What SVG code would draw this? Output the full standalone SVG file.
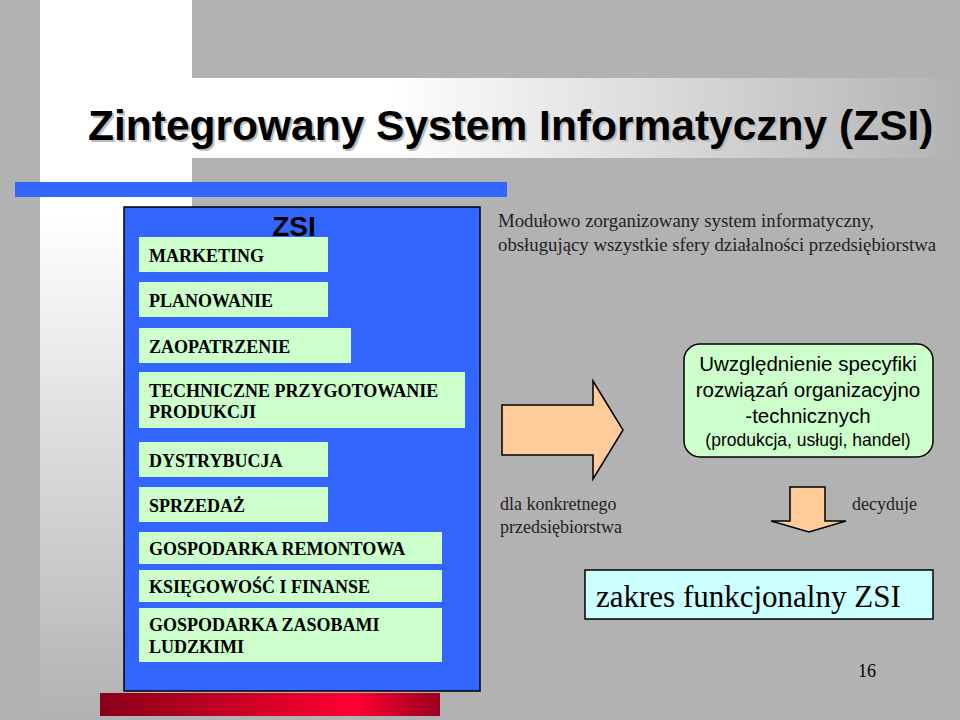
<svg xmlns="http://www.w3.org/2000/svg" width="960" height="720" viewBox="0 0 960 720">
<defs>
<linearGradient id="gv" x1="0" y1="0" x2="0" y2="1"><stop offset="0" stop-color="#fff"/><stop offset="0.3" stop-color="#fff"/><stop offset="1" stop-color="#b2b2b2"/></linearGradient>
<linearGradient id="gh" x1="0" y1="0" x2="1" y2="0"><stop offset="0" stop-color="#fff"/><stop offset="0.35" stop-color="#fff"/><stop offset="1" stop-color="#b2b2b2"/></linearGradient>
<linearGradient id="gr" x1="0" y1="0" x2="1" y2="0"><stop offset="0" stop-color="#8a0018"/><stop offset="0.75" stop-color="#ff0030"/><stop offset="1" stop-color="#9a0020"/></linearGradient>
<style>
.b{fill:#ccffcc}
.t{font-family:"Liberation Serif",serif;fill:#000}
.k{font-weight:bold}
.s{font-family:"Liberation Sans",sans-serif;fill:#000}
.o{fill:#ffcc99;stroke:#000;stroke-width:1.5}
.n{font-family:"Liberation Serif",serif;font-weight:bold;font-size:18px;fill:#000}
</style>
</defs>
<rect width="960" height="720" fill="#b2b2b2"/>
<rect x="40" y="0" width="152" height="720" fill="url(#gv)"/>
<rect x="80" y="78" width="880" height="80" fill="url(#gh)"/>
<text x="90" y="142" class="s k" style="font-size:42.5px;fill:#bbb">Zintegrowany System Informatyczny (ZSI)</text>
<text x="88" y="140" class="s k" style="font-size:42.5px">Zintegrowany System Informatyczny (ZSI)</text>
<rect x="15" y="182" width="492" height="15" fill="#3366ff"/>
<rect x="100" y="693" width="340" height="23" fill="url(#gr)"/>
<g id="zsi">
<rect x="124" y="207" width="356" height="484" fill="#3366ff" stroke="#000" stroke-width="1.5"/>
<text x="294" y="236" class="s k" style="font-size:28px" text-anchor="middle">ZSI</text>
</g>
<g id="n1"><rect class="b" x="139" y="237" width="189" height="35"/><text class="n" x="149" y="262">MARKETING</text></g>
<g id="n2"><rect class="b" x="139" y="282" width="189" height="35"/><text class="n" x="149" y="307">PLANOWANIE</text></g>
<g id="n3"><rect class="b" x="139" y="328" width="212" height="35"/><text class="n" x="149" y="353">ZAOPATRZENIE</text></g>
<g id="n4"><rect class="b" x="139" y="372" width="326" height="56"/><text class="n" x="149" y="397">TECHNICZNE PRZYGOTOWANIE</text><text class="n" x="149" y="418">PRODUKCJI</text></g>
<g id="n5"><rect class="b" x="139" y="442" width="189" height="35"/><text class="n" x="149" y="467">DYSTRYBUCJA</text></g>
<g id="n6"><rect class="b" x="139" y="487" width="189" height="35"/><text class="n" x="149" y="512">SPRZEDAŻ</text></g>
<g id="n7"><rect class="b" x="139" y="532" width="303" height="32"/><text class="n" x="149" y="555">GOSPODARKA REMONTOWA</text></g>
<g id="n8"><rect class="b" x="139" y="570" width="303" height="32"/><text class="n" x="149" y="593">KSIĘGOWOŚĆ I FINANSE</text></g>
<g id="n9"><rect class="b" x="139" y="608" width="303" height="54"/><text class="n" x="149" y="631">GOSPODARKA ZASOBAMI</text><text class="n" x="149" y="653">LUDZKIMI</text></g>
<g id="desc"><text class="t" style="font-size:18.8px;fill:#222" x="498" y="227">Modułowo zorganizowany system informatyczny,</text><text class="t" style="font-size:18.8px;fill:#222" x="498" y="251">obsługujący wszystkie sfery działalności przedsiębiorstwa</text></g>
<g id="connectors">
<polygon class="o" points="502,405 593,405 593,381 623,430 593,479 593,455 502,455"/>
<polygon class="o" points="790,487 825,487 825,521 846,521 809,532 771,521 790,521"/>
</g>
<g id="spec">
<rect x="684" y="344" width="249" height="113" rx="16" fill="#ccffcc" stroke="#000" stroke-width="1.5"/>
<text class="s" style="font-size:20.5px" text-anchor="middle" x="808" y="371">Uwzględnienie specyfiki</text>
<text class="s" style="font-size:20.5px" text-anchor="middle" x="808" y="397">rozwiązań organizacyjno</text>
<text class="s" style="font-size:20.5px" text-anchor="middle" x="808" y="423">-technicznych</text>
<text class="s" style="font-size:17.5px" text-anchor="middle" x="808" y="446">(produkcja, usługi, handel)</text>
</g>
<g id="lbl1"><text class="t" style="font-size:18px;fill:#222" x="500" y="510">dla konkretnego</text><text class="t" style="font-size:18px;fill:#222" x="500" y="533">przedsiębiorstwa</text></g>
<g id="lbl2"><text class="t" style="font-size:18px;fill:#222" x="852" y="510">decyduje</text></g>
<g id="scope"><rect x="585" y="570" width="348" height="49" fill="#ccffff" stroke="#000" stroke-width="1.5"/><text class="t" style="font-size:31px" x="596" y="607">zakres funkcjonalny ZSI</text></g>
<text class="t" style="font-size:18px" x="858" y="677">16</text>
</svg>
